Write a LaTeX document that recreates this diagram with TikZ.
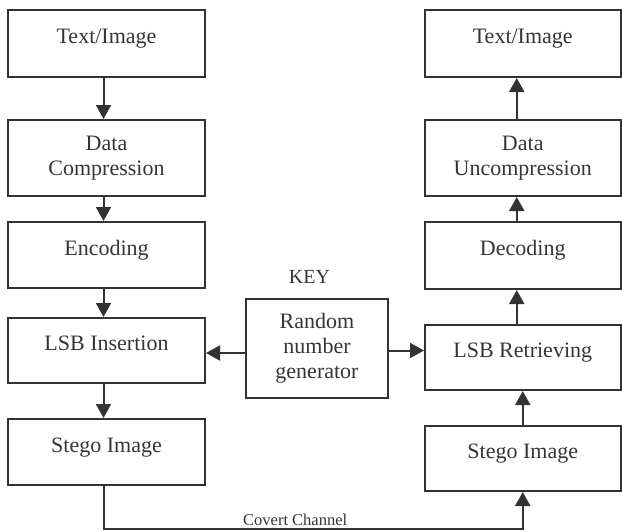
\documentclass[tikz,border=0pt]{standalone}
\usepackage{fontspec}
\setmainfont{Liberation Serif}
\usetikzlibrary{arrows.meta,calc}
\definecolor{ln}{HTML}{333333}
\definecolor{tx}{HTML}{353535}
\begin{document}
\begin{tikzpicture}[x=1pt,y=-1pt,
  box/.style={draw=ln,line width=2pt,rectangle,inner sep=0pt,text=tx,
    font=\fontsize{22}{25}\selectfont,align=center},
  one/.style={text height=12pt,text depth=12pt},
  lw/.style={minimum width=197pt},
  rw/.style={minimum width=195.5pt},
  arr/.style={draw=ln,line width=2pt,-{Triangle[length=14pt,width=15pt]}},
  lbl/.style={text=tx,inner sep=0pt}]
\useasboundingbox (0,0) rectangle (622,531);
% left column
\node[box,one,lw,minimum height=67pt] (L1) at (106.5,43.5) {Text/Image};
\node[box,lw,minimum height=76pt] (L2) at (106.5,158) {Data\\Compression};
\node[box,one,lw,minimum height=66pt] (L3) at (106.5,255) {Encoding};
\node[box,one,lw,minimum height=65pt] (L4) at (106.5,350.5) {LSB Insertion};
\node[box,one,lw,minimum height=66pt] (L5) at (106.5,452) {Stego Image};
% right column
\node[box,one,rw,minimum height=67pt] (R1) at (522.75,43.5) {Text/Image};
\node[box,rw,minimum height=76pt] (R2) at (522.75,158) {Data\\Uncompression};
\node[box,one,rw,minimum height=67pt] (R3) at (522.75,255.5) {Decoding};
\node[box,one,rw,minimum height=65pt] (R4) at (522.75,357.5) {LSB Retrieving};
\node[box,one,rw,minimum height=65pt] (R5) at (522.75,458.5) {Stego Image};
% key
\node[box,minimum width=142pt,minimum height=99pt] (RNG) at (317,348.5) {Random\\number\\generator};
\node[lbl,font=\fontsize{20}{24}\selectfont,anchor=base] (key) at (309.5,283) {KEY};
% left arrows
\draw[arr] ([xshift=-3pt]L1.south) -- ([xshift=-3pt]L2.north);
\draw[arr] ([xshift=-3pt]L2.south) -- ([xshift=-3pt]L3.north);
\draw[arr] ([xshift=-3pt]L3.south) -- ([xshift=-3pt]L4.north);
\draw[arr] ([xshift=-3pt]L4.south) -- ([xshift=-3pt]L5.north);
% right arrows
\draw[arr] ([xshift=-6pt]R2.north) -- ([xshift=-6pt]R1.south);
\draw[arr] ([xshift=-6pt]R3.north) -- ([xshift=-6pt]R2.south);
\draw[arr] ([xshift=-6pt]R4.north) -- ([xshift=-6pt]R3.south);
\draw[arr] (R5.north) -- (R4.south);
% key arrows
\coordinate (kl) at ($(RNG.west)+(0,4.5)$);
\coordinate (kr) at ($(RNG.east)+(0,2)$);
\draw[arr] (kl) -- (kl -| L4.east);
\draw[arr] (kr) -- (kr -| R4.west);
% covert channel
\coordinate (cb) at (0,528.5);
\draw[arr] ([xshift=-3pt]L5.south) |- (cb -| R5.south) -- (R5.south);
\node[lbl,font=\fontsize{16.5}{20}\selectfont,anchor=base west] (cc) at (243,525) {Covert Channel};
\end{tikzpicture}
\end{document}
